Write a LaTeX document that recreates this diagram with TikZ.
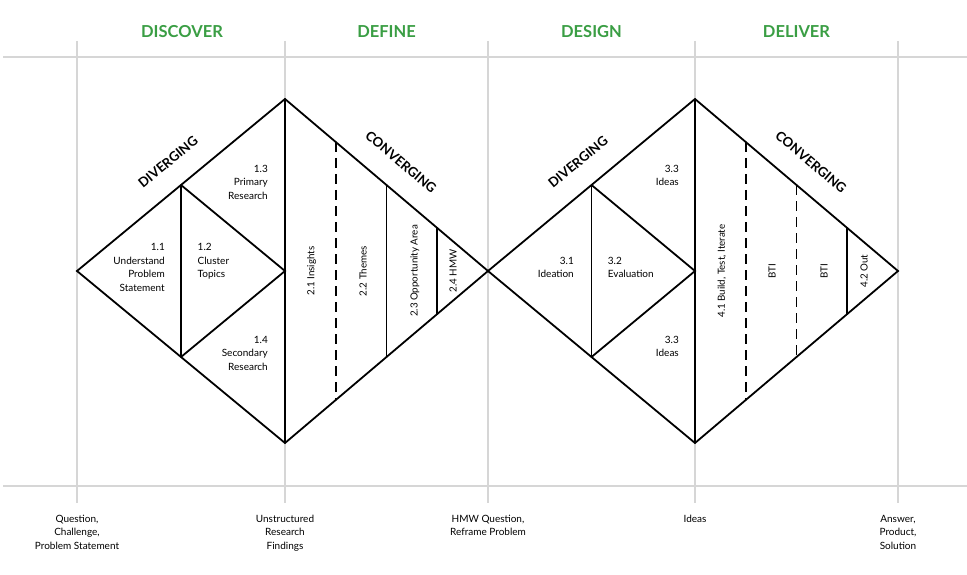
\documentclass[tikz,border=0pt]{standalone}
\usepackage{fontspec}
\setmainfont{Lato}
\usetikzlibrary{calc}
\definecolor{gridgray}{RGB}{214,214,214}
\definecolor{phasegreen}{RGB}{58,158,68}
\begin{document}
\begin{tikzpicture}[x=1pt,y=-1pt,
  gridline/.style={draw=gridgray, line width=1.8pt},
  edge/.style={draw=black, line width=1.8pt, line join=miter},
  dashedge/.style={draw=black, line width=1.8pt, dash pattern=on 10pt off 6pt},
  lbl/.style={font=\fontsize{10}{13.5}\selectfont, inner sep=0pt},
  vlbl/.style={font=\fontsize{9.8}{12}\selectfont, inner sep=0pt, rotate=90},
  phase/.style={font=\fontsize{16.5}{19}\selectfont\bfseries, text=phasegreen, inner sep=0pt},
  mode/.style={font=\fontsize{13.2}{15}\selectfont\bfseries, inner sep=0pt},
  outlbl/.style={font=\fontsize{10}{13.5}\selectfont, inner sep=0pt, align=center, anchor=north}]
\useasboundingbox (0,0) rectangle (967,575);
\fill[white] (0,0) rectangle (967,575);

% grid
\coordinate (gl) at (3,57); \coordinate (gr) at (967,57);
\coordinate (bl) at (3,486); \coordinate (br) at (967,486);
\draw[gridline] (gl) -- (gr);
\draw[gridline] (bl) -- (br);
\foreach \x/\n in {77/a,285/b,488/c,695/d,898/e}{
  \coordinate (vt\n) at (\x,41);
  \coordinate (vb\n) at (\x,503);
  \draw[gridline] (vt\n) -- (vb\n);
}

% phase headers
\node[phase] (discover) at (182,32) {DISCOVER};
\node[phase] (define) at (386.5,32) {DEFINE};
\node[phase] (design) at (591.5,32) {DESIGN};
\node[phase] (deliver) at (796.5,32) {DELIVER};

% diamond coordinates
\coordinate (L1) at (77,271);
\coordinate (T1) at (285,99);
\coordinate (R1) at (488,271);
\coordinate (B1) at (285,443);
\coordinate (C1) at (285,271);
\coordinate (T2) at (695,99);
\coordinate (R2) at (898,271);
\coordinate (B2) at (695,443);
\coordinate (C2) at (695,271);
\coordinate (M1t) at ($(L1)!0.5!(T1)$);
\coordinate (M1b) at ($(L1)!0.5!(B1)$);
\coordinate (M2t) at ($(R1)!0.5!(T2)$);
\coordinate (M2b) at ($(R1)!0.5!(B2)$);

% left diamond
\draw[edge] (L1) -- (T1) -- (R1) -- (B1) -- cycle;
\draw[edge] (T1) -- (B1);
\draw[edge] (M1t) -- (M1b);
\draw[edge] (M1t) -- (C1) -- (M1b);
\draw[dashedge] ($(T1)!0.25!(R1)$) -- ($(B1)!0.25!(R1)$);
\draw[edge] ($(T1)!0.5!(R1)$) -- ($(B1)!0.5!(R1)$);
\draw[edge] ($(T1)!0.75!(R1)$) -- ($(B1)!0.75!(R1)$);

% right diamond
\draw[edge] (R1) -- (T2) -- (R2) -- (B2) -- cycle;
\draw[edge] (T2) -- (B2);
\draw[edge] (M2t) -- (M2b);
\draw[edge] (M2t) -- (C2) -- (M2b);
\draw[dashedge] ($(T2)!0.25!(R2)$) -- ($(B2)!0.25!(R2)$);
\draw[dashedge] ($(T2)!0.5!(R2)$) -- ($(B2)!0.5!(R2)$);
\draw[edge] ($(T2)!0.75!(R2)$) -- ($(B2)!0.75!(R2)$);

% mode labels
\node[mode, rotate=39.6] (div1) at (168,162) {DIVERGING};
\node[mode, rotate=-40.3] (conv1) at (401,162) {CONVERGING};
\node[mode, rotate=39.6] (div2) at (578,162) {DIVERGING};
\node[mode, rotate=-40.3] (conv2) at (811,162) {CONVERGING};

% discover labels
\node[lbl, align=right, anchor=north east] (n11) at (165,243.5) {1.1\\Understand\\Problem\\Statement};
\node[lbl, align=left, anchor=north west] (n12) at (197.5,243.5) {1.2\\Cluster\\Topics};
\node[lbl, align=right, anchor=north east] (n13) at (268,165) {1.3\\Primary\\Research};
\node[lbl, align=right, anchor=north east] (n14) at (268,336) {1.4\\Secondary\\Research};

% define labels
\node[vlbl] (n21) at (311.7,271) {2.1 Insights};
\node[vlbl] (n22) at (363,271) {2.2 Themes};
\node[vlbl] (n23) at (415,271) {2.3 Opportunity Area};
\node[vlbl] (n24) at (453,271) {2.4 HMW};

% design labels
\node[lbl, align=right, anchor=north east] (n31) at (574,257) {3.1\\Ideation};
\node[lbl, align=left, anchor=north west] (n32) at (607.7,257) {3.2\\Evaluation};
\node[lbl, align=right, anchor=north east] (n33a) at (679,165) {3.3\\Ideas};
\node[lbl, align=right, anchor=north east] (n33b) at (679,336) {3.3\\Ideas};

% deliver labels
\node[vlbl] (n41) at (722,271) {4.1 Build, Test, Iterate};
\node[vlbl] (bti1) at (772,271) {BTI};
\node[vlbl] (bti2) at (824,271) {BTI};
\node[vlbl] (n42) at (864,271) {4.2 Out};

% outputs
\node[outlbl] (o1) at (77,514.8) {Question,\\Challenge,\\Problem Statement};
\node[outlbl] (o2) at (285,514.8) {Unstructured\\Research\\Findings};
\node[outlbl] (o3) at (488,514.8) {HMW Question,\\Reframe Problem};
\node[outlbl] (o4) at (695,514.8) {Ideas};
\node[outlbl] (o5) at (898,514.8) {Answer,\\Product,\\Solution};
\end{tikzpicture}
\end{document}
